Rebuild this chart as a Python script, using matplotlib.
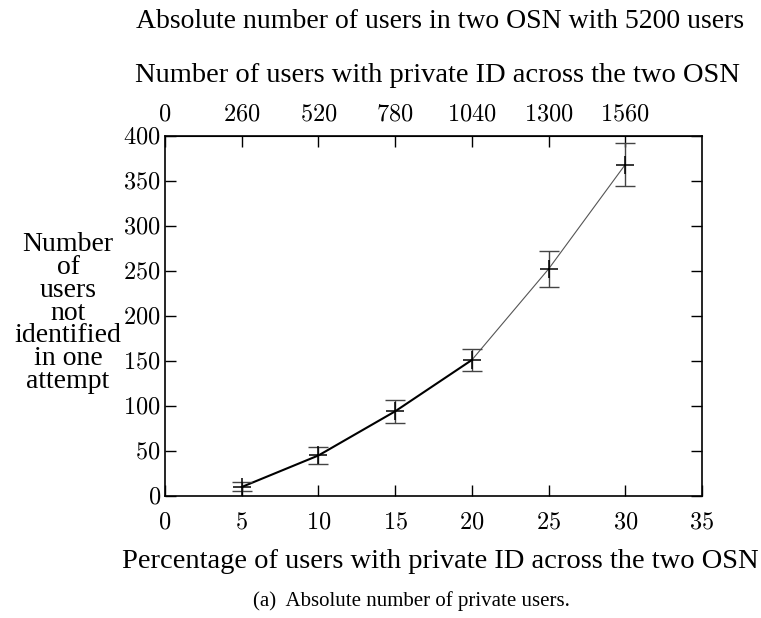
import matplotlib
matplotlib.use("Agg")
import matplotlib.pyplot as plt
import numpy as np

# Data
pct = [5, 10, 15, 20, 25, 30]
not_identified = [10, 45, 94, 151, 252, 368]
err = [5, 9, 13, 12.5, 20.5, 24]
total_users = 5200
x_ticks = [0, 5, 10, 15, 20, 25, 30, 35]
y_ticks = [0, 50, 100, 150, 200, 250, 300, 350, 400]
top_ticks = [0, 260, 520, 780, 1040, 1300, 1560]

plt.rcParams['font.family'] = ['Liberation Serif', 'DejaVu Serif']
plt.rcParams['mathtext.fontset'] = 'cm'

fig = plt.figure(figsize=(7.61, 6.18), dpi=100)
ax = fig.add_axes([165/761, 1-496/618, (702-165)/761, (496-135.7)/618])

# line: first part thick black, second part thin gray
ax.plot(pct[:4], not_identified[:4], color='black', lw=1.5, zorder=3)
ax.plot(pct[3:], not_identified[3:], color='#555555', lw=0.8, zorder=3)
ax.errorbar(pct, not_identified, yerr=err, fmt='none', ecolor='#444444',
            elinewidth=1.0, capsize=7, capthick=1.0, zorder=4)
ax.plot(pct, not_identified, linestyle='none', marker='+', markersize=13,
        mew=1.1, color='black', zorder=5)

ax.set_xlim(0, 35)
ax.set_ylim(0, 400)
ax.set_xticks(x_ticks)
ax.set_yticks(y_ticks)
ax.set_xticklabels([f"${t}$" for t in x_ticks], fontsize=17.5)
ax.set_yticklabels([f"${t}$" for t in y_ticks], fontsize=17.5)
ax.tick_params(axis='x', direction='in', length=8, width=1, top=False, pad=12)
ax.tick_params(axis='y', direction='in', length=8, width=1, right=True, pad=3)
for s in ax.spines.values():
    s.set_linewidth(1.2)

sec = ax.secondary_xaxis('top', functions=(lambda x: x * total_users / 100,
                                           lambda x: x * 100 / total_users))
sec.set_xticks(top_ticks)
sec.set_xticklabels([f"${t}$" for t in top_ticks], fontsize=17.5)
sec.tick_params(direction='in', length=8, width=1, pad=7)

fig.text(440/761, 1-562/618, "Percentage of users with private ID across the two OSN",
         ha='center', va='center', fontsize=20.5)
fig.text(68/761, 1-313/618, "Number\nof\nusers\nnot\nidentified\nin one\nattempt",
         ha='center', va='center', fontsize=20, linespacing=0.88)

fig.text(440/761, 1-22/618, "Absolute number of users in two OSN with 5200 users",
         ha='center', va='center', fontsize=20)
fig.text(437/761, 1-76/618, "Number of users with private ID across the two OSN",
         ha='center', va='center', fontsize=20.5)
fig.text(411/761, 1-601/618, "(a)  Absolute number of private users.",
         ha='center', va='center', fontsize=15)

fig.savefig("out.png", dpi=100)
